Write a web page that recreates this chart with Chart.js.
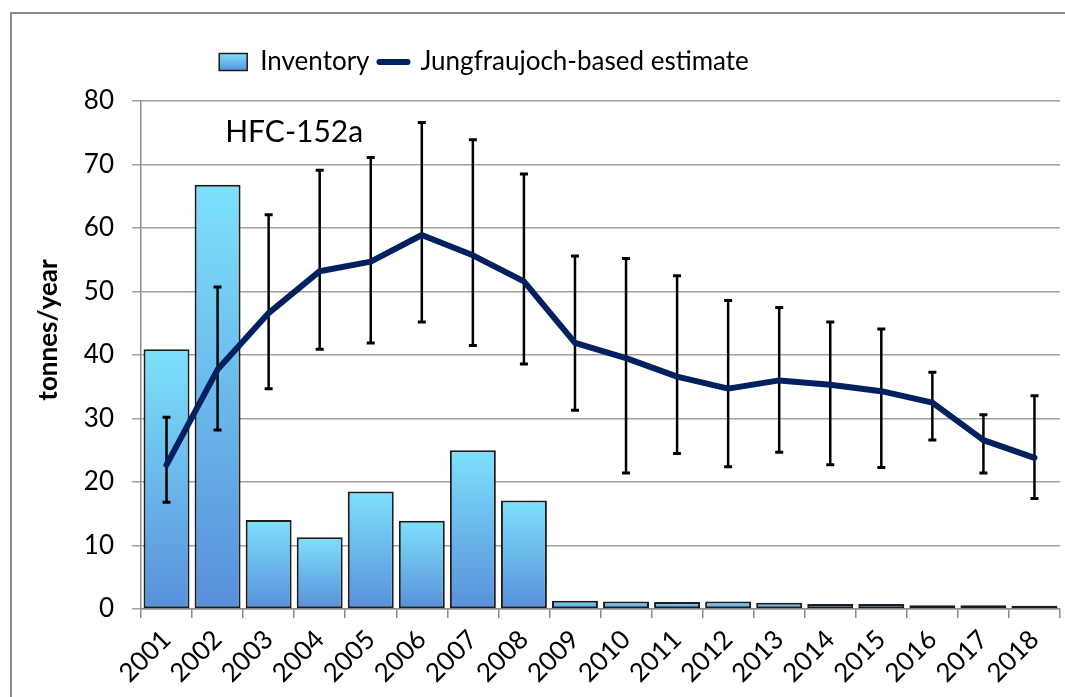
<!DOCTYPE html>
<html>
<head>
<meta charset="utf-8">
<script src="https://cdn.jsdelivr.net/npm/chart.js@4.4.1/dist/chart.umd.min.js"></script>
<style>
  body { margin: 0; background: #fff; overflow: hidden; }
  #frame { position: absolute; left: 10px; top: 12px; width: 1100px; height: 720px;
    border-top: 2px solid #8c8c8c; border-left: 2px solid #8c8c8c; }
  #myChart { position: absolute; left: 0; top: 0; }
</style>
</head>
<body>
<div id="frame"></div>
<canvas id="myChart" width="1065" height="697"></canvas>
<script>
const years = ['2001', '2002', '2003', '2004', '2005', '2006', '2007', '2008', '2009',
  '2010', '2011', '2012', '2013', '2014', '2015', '2016', '2017', '2018'];
const inventory = [40.9, 66.8, 14.0, 11.3, 18.5, 13.9, 25.0, 17.1, 1.3,
  1.2, 1.1, 1.2, 1.0, 0.8, 0.8, 0.6, 0.6, 0.5];
const estimate = [22.7, 37.7, 46.6, 53.2, 54.7, 58.9, 55.7, 51.6, 41.9,
  39.5, 36.6, 34.7, 36.0, 35.3, 34.3, 32.5, 26.6, 23.8];
const errHigh = [30.2, 50.7, 62.1, 69.1, 71.1, 76.6, 73.9, 68.5, 55.6,
  55.2, 52.5, 48.6, 47.5, 45.2, 44.1, 37.3, 30.6, 33.6];
const errLow = [16.8, 28.2, 34.7, 40.9, 41.9, 45.2, 41.5, 38.6, 31.3,
  21.4, 24.5, 22.4, 24.7, 22.7, 22.3, 26.6, 21.4, 17.4];
const yTicks = [0, 10, 20, 30, 40, 50, 60, 70, 80];

const FONT = 'Lato, "Open Sans", sans-serif';
const BAR_TOP = '#7de1fb';
const BAR_BOTTOM = '#5890da';
const LINE_BLUE = '#002060';

function barGradient(ctx, top, bottom) {
  const g = ctx.createLinearGradient(0, top, 0, bottom);
  g.addColorStop(0, BAR_TOP);
  g.addColorStop(1, BAR_BOTTOM);
  return g;
}

/* error bars, drawn over the bars but under the line */
const errorBars = {
  id: 'errorBars',
  afterDatasetDraw: function (chart, args) {
    if (args.index !== 0) return;
    const ctx = chart.ctx;
    const x = chart.scales.x;
    const y = chart.scales.y;
    ctx.save();
    ctx.strokeStyle = '#000';
    for (let i = 0; i < years.length; i++) {
      const px = x.getPixelForValue(i);
      const top = y.getPixelForValue(errHigh[i]);
      const bot = y.getPixelForValue(errLow[i]);
      ctx.lineWidth = 2.5;
      ctx.beginPath();
      ctx.moveTo(px, top);
      ctx.lineTo(px, bot);
      ctx.stroke();
      ctx.lineWidth = 3;
      ctx.beginPath();
      ctx.moveTo(px - 4, top);
      ctx.lineTo(px + 4, top);
      ctx.moveTo(px - 4, bot);
      ctx.lineTo(px + 4, bot);
      ctx.stroke();
    }
    ctx.restore();
  }
};

/* legend sizing / position and the free texts */
const extras = {
  id: 'extras',
  beforeInit: function (chart) {
    const legend = chart.legend;
    const origFit = legend.fit;
    legend.fit = function () {
      origFit.call(this);
      this.height += 16;
    };
  },
  afterLayout: function (chart) {
    chart.legend.left -= 46;
    chart.legend.right -= 46;
  },
  afterDraw: function (chart) {
    const ctx = chart.ctx;
    const x = chart.scales.x;
    const y = chart.scales.y;
    ctx.save();
    ctx.fillStyle = '#000';
    ctx.font = '30px ' + FONT;
    ctx.textAlign = 'center';
    ctx.textBaseline = 'middle';
    ctx.fillText('HFC-152a', x.getPixelForValue(2.5), y.getPixelForValue(75.1));

    ctx.font = 'bold 26px ' + FONT;
    ctx.translate(49, 330);
    ctx.rotate(-Math.PI / 2);
    ctx.fillText('tonnes/year', 0, 0);
    ctx.restore();
  }
};

const ctx = document.getElementById('myChart').getContext('2d');

// eslint-disable-next-line no-undef
const chart = new Chart(ctx, {
  type: 'bar',
  data: {
    labels: years,
    datasets: [{
      label: 'Inventory',
      data: inventory,
      order: 1,
      backgroundColor: function (c) {
        const ys = c.chart.scales.y;
        if (!ys || c.raw === undefined) return BAR_TOP;
        return barGradient(c.chart.ctx, ys.getPixelForValue(c.raw), ys.getPixelForValue(0));
      },
      borderColor: '#1c1c1c',
      borderWidth: 2,
      borderSkipped: false,
      barPercentage: 0.9,
      categoryPercentage: 1.0,
    },
    {
      type: 'line',
      label: 'Jungfraujoch-based estimate',
      data: estimate,
      order: 0,
      borderColor: LINE_BLUE,
      backgroundColor: LINE_BLUE,
      borderWidth: 6,
      pointRadius: 0,
      tension: 0,
      borderJoinStyle: 'round',
      borderCapStyle: 'round',
    }]
  },
  options: {
    responsive: false,
    animation: false,
    layout: { padding: { top: 39, right: 5, left: 0, bottom: 0 } },
    plugins: {
      tooltip: { enabled: false },
      legend: {
        display: true,
        position: 'top',
        labels: {
          usePointStyle: true,
          pointStyleWidth: 28,
          boxHeight: 17,
          padding: 10,
          color: '#000',
          font: { family: FONT, size: 26 },
          generateLabels: function (ch) {
            return [{
              text: 'Inventory',
              fillStyle: barGradient(ch.ctx, 53, 71),
              strokeStyle: '#1c1c1c',
              lineWidth: 1.5,
              pointStyle: 'rect',
              datasetIndex: 0,
            }, {
              text: 'Jungfraujoch-based estimate',
              fillStyle: LINE_BLUE,
              strokeStyle: LINE_BLUE,
              lineWidth: 6,
              lineCap: 'round',
              pointStyle: 'line',
              datasetIndex: 1,
            }];
          }
        }
      }
    },
    scales: {
      x: {
        offset: true,
        afterFit: function (scale) { scale.height = 88; },
        grid: { display: true, drawOnChartArea: false, offset: true, tickLength: 9, color: '#8c8c8c', lineWidth: 1.5 },
        border: { color: '#8c8c8c', width: 1.5 },
        ticks: {
          color: '#000',
          font: { family: FONT, size: 26 },
          minRotation: 45,
          maxRotation: 45,
          autoSkip: false,
          padding: 6,
        }
      },
      y: {
        min: 0,
        max: 80,
        afterFit: function (scale) { scale.width = 141; },
        afterBuildTicks: function (scale) {
          scale.ticks = yTicks.map(function (v) { return { value: v }; });
        },
        grid: { color: '#a0a0a0', lineWidth: 1.5, tickLength: 9 },
        border: { color: '#8c8c8c', width: 1.5 },
        ticks: {
          color: '#000',
          font: { family: FONT, size: 26 },
          padding: 18,
        }
      }
    }
  },
  plugins: [errorBars, extras]
});
</script>
</body>
</html>
